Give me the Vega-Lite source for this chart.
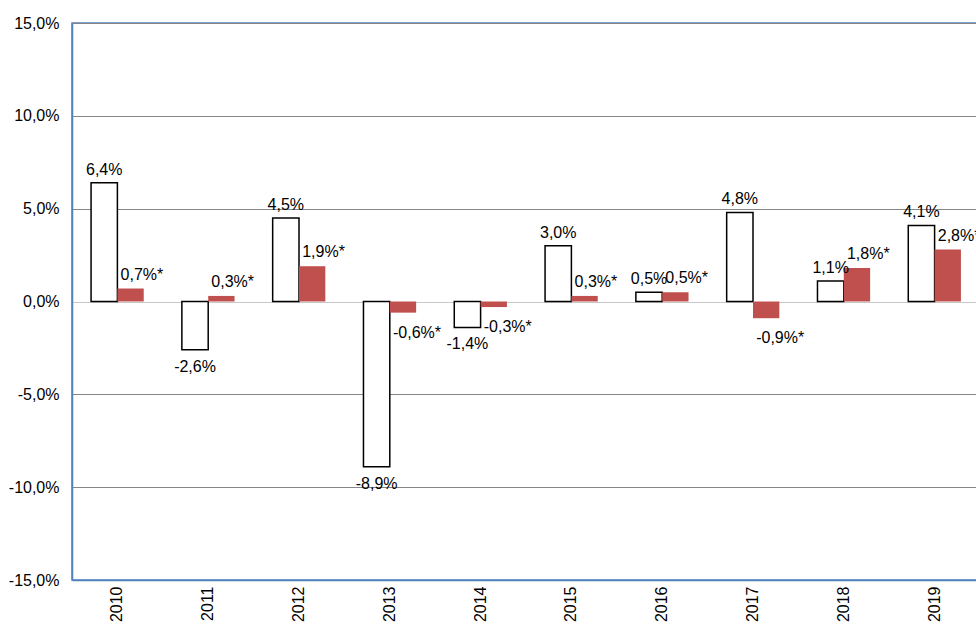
{
  "$schema": "https://vega.github.io/schema/vega-lite/v6.json",
  "autosize": {"type": "none"},
  "padding": {"left": 72, "top": 23, "right": 0, "bottom": 44},
  "width": 908,
  "height": 557,
  "background": "white",
  "config": {
    "view": {"stroke": "#4F81BD", "strokeWidth": 1.5},
    "font": "Liberation Sans"
  },
  "data": {
    "values": [
      {"year": "2010", "series": "A", "value": 0.064},
      {"year": "2011", "series": "A", "value": -0.026},
      {"year": "2012", "series": "A", "value": 0.045},
      {"year": "2013", "series": "A", "value": -0.089},
      {"year": "2014", "series": "A", "value": -0.014},
      {"year": "2015", "series": "A", "value": 0.030},
      {"year": "2016", "series": "A", "value": 0.005},
      {"year": "2017", "series": "A", "value": 0.048},
      {"year": "2018", "series": "A", "value": 0.011},
      {"year": "2019", "series": "A", "value": 0.041},
      {"year": "2010", "series": "B", "value": 0.007},
      {"year": "2011", "series": "B", "value": 0.003},
      {"year": "2012", "series": "B", "value": 0.019},
      {"year": "2013", "series": "B", "value": -0.006},
      {"year": "2014", "series": "B", "value": -0.003},
      {"year": "2015", "series": "B", "value": 0.003},
      {"year": "2016", "series": "B", "value": 0.005},
      {"year": "2017", "series": "B", "value": -0.009},
      {"year": "2018", "series": "B", "value": 0.018},
      {"year": "2019", "series": "B", "value": 0.028}
    ]
  },
  "transform": [
    {"calculate": "replace(replace(format(datum.value, '.1%'), '.', ','), '\u2212', '-') + (datum.series === 'B' ? '*' : '')", "as": "label"}
  ],
  "encoding": {
    "x": {
      "field": "year", "type": "nominal",
      "scale": {"paddingInner": 0.42, "paddingOuter": 0.21},
      "axis": {
        "title": null, "labelAngle": -90, "labelFontSize": 16, "labelColor": "#000000",
        "ticks": false, "labelPadding": 6, "domainColor": "#4F81BD", "domainWidth": 1.5,
        "labelFont": "Liberation Sans"
      }
    },
    "xOffset": {"field": "series", "type": "nominal", "scale": {"domain": ["A", "B"]}}
  },
  "layer": [
    {
      "mark": {"type": "bar", "strokeWidth": 1.5},
      "encoding": {
        "y": {
          "field": "value", "type": "quantitative",
          "scale": {"domain": [-0.15, 0.15], "nice": false, "zero": false},
          "axis": {
            "title": null, "values": [-0.15, -0.1, -0.05, 0, 0.05, 0.1, 0.15],
            "labelExpr": "replace(replace(format(datum.value, '.1%'), '.', ','), '\u2212', '-')",
            "labelFontSize": 16, "labelColor": "#000000", "ticks": false, "labelPadding": 13,
            "domainColor": "#4F81BD", "domainWidth": 1.5,
            "grid": true,
            "gridColor": {"condition": {"test": "datum.value === 0", "value": "#C8C8C8"}, "value": "#868686"},
            "gridWidth": 1.2,
            "labelFont": "Liberation Sans"
          }
        },
        "fill": {"field": "series", "type": "nominal", "scale": {"domain": ["A", "B"], "range": ["#FFFFFF", "#C0504D"]}, "legend": null},
        "stroke": {"field": "series", "type": "nominal", "scale": {"domain": ["A", "B"], "range": ["#000000", "transparent"]}, "legend": null}
      }
    },
    {
      "transform": [{"filter": "datum.series === 'A' && datum.value >= 0"}],
      "mark": {"type": "text", "fontSize": 16, "baseline": "alphabetic", "align": "center", "dy": -8, "color": "#000000"},
      "encoding": {"y": {"field": "value", "type": "quantitative"}, "text": {"field": "label"}}
    },
    {
      "transform": [{"filter": "datum.series === 'A' && datum.value < 0"}],
      "mark": {"type": "text", "fontSize": 16, "baseline": "alphabetic", "align": "center", "dy": 22, "color": "#000000"},
      "encoding": {"y": {"field": "value", "type": "quantitative"}, "text": {"field": "label"}}
    },
    {
      "transform": [{"filter": "datum.series === 'B' && datum.value >= 0"}],
      "mark": {"type": "text", "fontSize": 16, "baseline": "alphabetic", "align": "left", "dx": -10, "dy": -9, "color": "#000000"},
      "encoding": {"y": {"field": "value", "type": "quantitative"}, "text": {"field": "label"}}
    },
    {
      "transform": [{"filter": "datum.series === 'B' && datum.value < 0"}],
      "mark": {"type": "text", "fontSize": 16, "baseline": "alphabetic", "align": "left", "dx": -10, "dy": 25, "color": "#000000"},
      "encoding": {"y": {"field": "value", "type": "quantitative"}, "text": {"field": "label"}}
    }
  ]
}
